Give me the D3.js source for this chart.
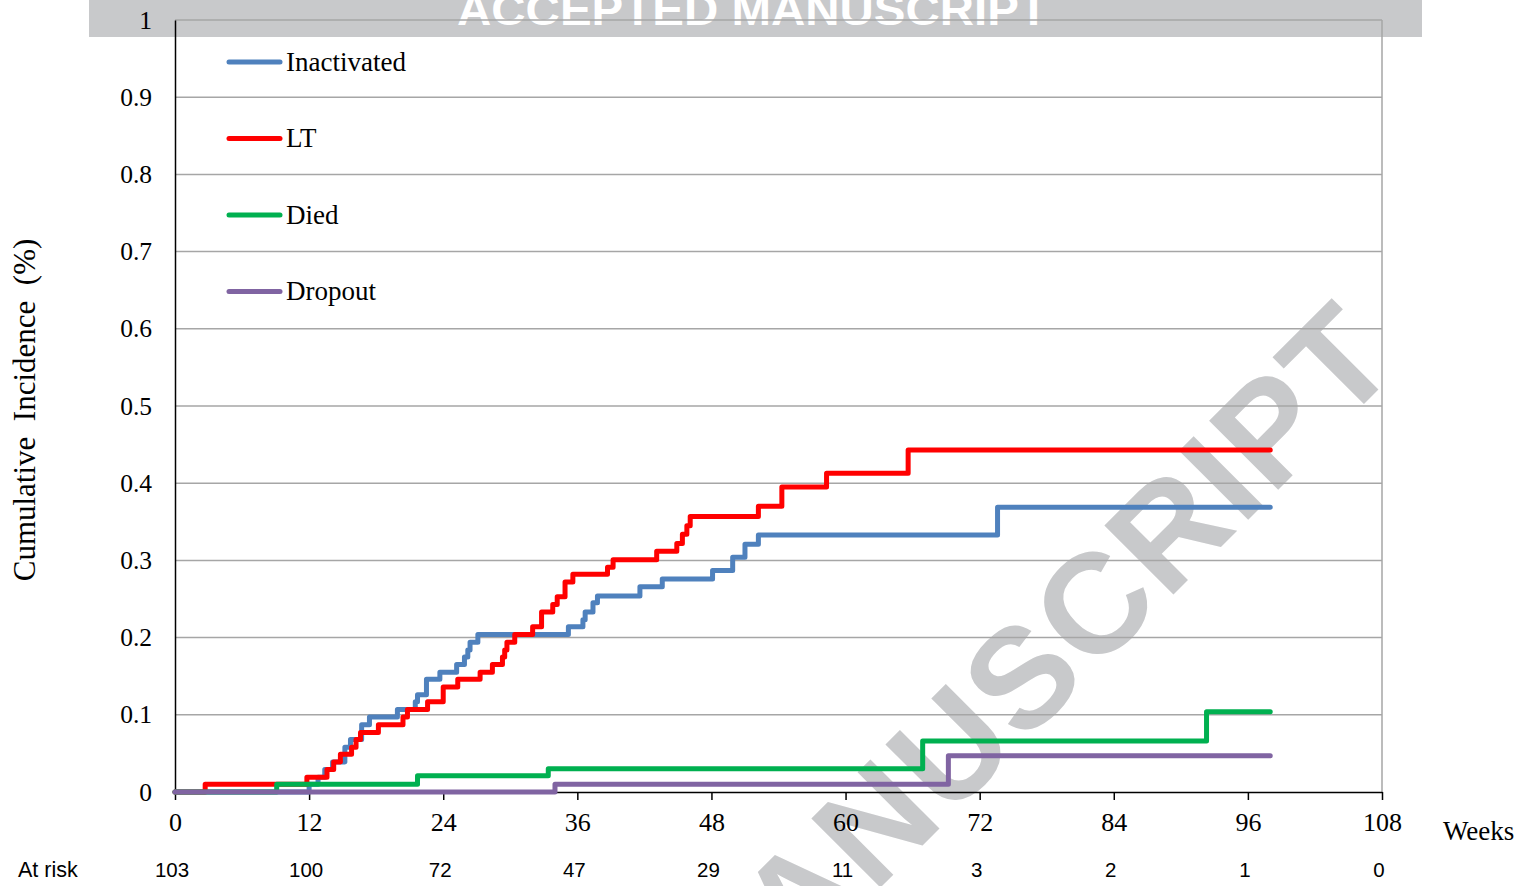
<!DOCTYPE html>
<html>
<head>
<meta charset="utf-8">
<script src="https://cdn.jsdelivr.net/npm/d3@7"></script>
<style>
  body { margin: 0; background: #fff; }
  svg { display: block; }
</style>
</head>
<body>
<svg id="chart" width="1533" height="886"></svg>
<script>
// weeks / cumulative incidence
var seriesNames = ["Inactivated", "LT", "Died", "Dropout"];
var seriesColors = ["#4f81bd", "#ff0000", "#00b050", "#8064a2"];

var inactivatedWeeks = [0, 12.0, 12.8, 13.4, 14.1, 15.2, 15.7, 16.7, 17.4, 19.9, 21.5, 21.7, 22.5, 23.7, 25.2, 25.9, 26.2, 26.4, 27.1, 35.2, 36.5, 36.7, 37.4, 37.8, 41.6, 43.6, 48.1, 49.9, 51.0, 52.2, 73.6, 98.0];
var inactivatedValues = [0, 0.010, 0.019, 0.029, 0.039, 0.058, 0.068, 0.087, 0.097, 0.107, 0.117, 0.126, 0.146, 0.155, 0.165, 0.175, 0.184, 0.194, 0.204, 0.214, 0.223, 0.233, 0.245, 0.254, 0.266, 0.276, 0.287, 0.304, 0.321, 0.333, 0.369, 0.369];

var ltWeeks = [0, 2.7, 11.8, 13.6, 14.2, 14.8, 15.8, 16.2, 16.6, 18.2, 20.4, 20.8, 22.6, 24.0, 25.3, 27.3, 28.4, 29.3, 29.5, 29.7, 30.4, 32.0, 32.8, 33.8, 34.2, 34.9, 35.6, 38.7, 39.2, 43.1, 44.9, 45.4, 45.8, 46.1, 52.2, 54.3, 58.3, 65.6, 98.0];
var ltValues = [0, 0.010, 0.019, 0.029, 0.039, 0.049, 0.058, 0.068, 0.077, 0.087, 0.097, 0.107, 0.117, 0.136, 0.146, 0.155, 0.165, 0.175, 0.184, 0.194, 0.204, 0.214, 0.233, 0.243, 0.253, 0.272, 0.282, 0.291, 0.301, 0.312, 0.322, 0.334, 0.345, 0.357, 0.370, 0.395, 0.413, 0.443, 0.443];

var diedWeeks = [0, 9.1, 21.7, 33.4, 66.9, 92.3, 98.0];
var diedValues = [0, 0.010, 0.021, 0.030, 0.066, 0.104, 0.104];

var dropoutWeeks = [0, 34.0, 69.2, 98.0];
var dropoutValues = [0, 0.010, 0.047, 0.047];

var xTicks = [0, 12, 24, 36, 48, 60, 72, 84, 96, 108];
var yTicks = [0, 0.1, 0.2, 0.3, 0.4, 0.5, 0.6, 0.7, 0.8, 0.9, 1];
var atRisk = [103, 100, 72, 47, 29, 11, 3, 2, 1, 0];

var serif = "'Liberation Serif', 'Times New Roman', serif",
    sans = "'Liberation Sans', Arial, sans-serif";

var svg = d3.select("#chart");

var x = d3.scaleLinear().domain([0, 108]).range([175, 1382]),
    y = d3.scaleLinear().domain([0, 1]).range([792, 20]);

// watermark layer (under everything)
var wm = svg.append("g").attr("class", "watermark");
wm.append("rect")
    .attr("x", 89).attr("y", 0)
    .attr("width", 1333).attr("height", 37)
    .attr("fill", "#c8c9cb");
wm.append("text")
    .attr("x", 457).attr("y", 25)
    .attr("textLength", 591)
    .attr("lengthAdjust", "spacingAndGlyphs")
    .attr("font-family", sans)
    .attr("font-weight", "bold")
    .attr("font-size", 44)
    .attr("fill", "#ffffff")
    .text("ACCEPTED MANUSCRIPT");
wm.append("text")
    .attr("transform", "translate(1404,364) rotate(-45)")
    .attr("text-anchor", "end")
    .attr("font-family", sans)
    .attr("font-weight", "bold")
    .attr("font-size", 142)
    .attr("letter-spacing", 3)
    .attr("fill", "#c8c9cb")
    .text("ACCEPTED MANUSCRIPT");

// grid
svg.append("g")
    .selectAll("line")
    .data(yTicks.slice(1))
    .join("line")
    .attr("x1", x(0)).attr("x2", x(108))
    .attr("y1", function (d) { return y(d); })
    .attr("y2", function (d) { return y(d); })
    .attr("stroke", "#a6a6a6")
    .attr("stroke-width", 1.5);
svg.append("line")
    .attr("x1", x(108)).attr("x2", x(108))
    .attr("y1", y(1)).attr("y2", y(0))
    .attr("stroke", "#a6a6a6")
    .attr("stroke-width", 1.5);

// y axis
var yAxis = svg.append("g")
    .attr("transform", "translate(" + x(0) + ",0)")
    .call(d3.axisLeft(y).tickValues(yTicks).tickSize(0).tickPadding(23).tickFormat(d3.format("~g")));
yAxis.select(".domain").attr("stroke", "#000").attr("stroke-width", 1.5);
yAxis.selectAll("text")
    .attr("font-family", serif)
    .attr("font-size", 25.5)
    .attr("fill", "#000");

// x axis
var xAxis = svg.append("g")
    .attr("transform", "translate(0," + y(0) + ")")
    .call(d3.axisBottom(x).tickValues(xTicks).tickSize(8).tickPadding(13).tickSizeOuter(0));
xAxis.select(".domain").attr("stroke", "#000").attr("stroke-width", 1.5);
xAxis.selectAll(".tick line").attr("stroke", "#000").attr("stroke-width", 1.5);
xAxis.selectAll("text")
    .attr("font-family", serif)
    .attr("font-size", 26)
    .attr("fill", "#000");

svg.append("text")
    .attr("x", 1443).attr("y", 840)
    .attr("font-family", serif)
    .attr("font-size", 27)
    .text("Weeks");

svg.append("text")
    .attr("transform", "translate(35,410) rotate(-90)")
    .attr("text-anchor", "middle")
    .attr("font-family", serif)
    .attr("font-size", 31)
    .attr("xml:space", "preserve")
    .style("white-space", "pre")
    .text("Cumulative  Incidence  (%)");

// at risk row
svg.append("text")
    .attr("x", 18).attr("y", 877)
    .attr("font-family", sans)
    .attr("font-size", 21.5)
    .text("At risk");
svg.append("g")
    .selectAll("text")
    .data(atRisk)
    .join("text")
    .attr("x", function (d, i) { return x(xTicks[i]) - 3; })
    .attr("y", 877)
    .attr("text-anchor", "middle")
    .attr("font-family", sans)
    .attr("font-size", 20.5)
    .text(function (d) { return d; });

// curves
var allSeries = [
    { w: inactivatedWeeks, v: inactivatedValues },
    { w: ltWeeks, v: ltValues },
    { w: diedWeeks, v: diedValues },
    { w: dropoutWeeks, v: dropoutValues }
];
var line = d3.line()
    .x(function (d) { return x(d[0]); })
    .y(function (d) { return y(d[1]); })
    .curve(d3.curveStepAfter);

svg.append("g")
    .selectAll("path")
    .data(allSeries)
    .join("path")
    .attr("d", function (s) { return line(d3.zip(s.w, s.v)); })
    .attr("fill", "none")
    .attr("stroke", function (s, i) { return seriesColors[i]; })
    .attr("stroke-width", 5)
    .attr("stroke-linejoin", "round")
    .attr("stroke-linecap", "round");

// legend
var legend = svg.append("g")
    .selectAll("g")
    .data(seriesNames)
    .join("g")
    .attr("transform", function (d, i) { return "translate(0," + (62 + i * 76.5) + ")"; });
legend.append("line")
    .attr("x1", 229).attr("x2", 280)
    .attr("stroke", function (d, i) { return seriesColors[i]; })
    .attr("stroke-width", 5)
    .attr("stroke-linecap", "round");
legend.append("text")
    .attr("x", 286).attr("dy", "0.33em")
    .attr("font-family", serif)
    .attr("font-size", 27)
    .text(function (d) { return d; });
</script>
</body>
</html>
